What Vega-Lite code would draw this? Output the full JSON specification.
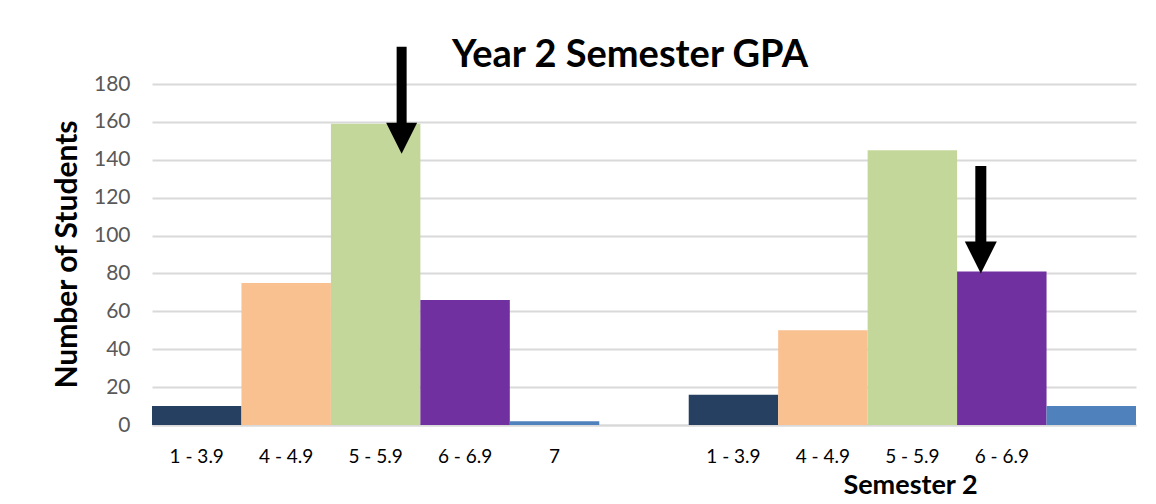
{
  "$schema": "https://vega.github.io/schema/vega-lite/v6.json",
  "width": 984,
  "height": 341,
  "autosize": "none",
  "padding": {"left": 152, "top": 84, "right": 20, "bottom": 79},
  "background": "white",
  "title": {
    "text": "Year 2 Semester GPA",
    "frame": "group",
    "anchor": "middle",
    "dx": -14,
    "dy": 76,
    "offset": 13,
    "baseline": "alphabetic",
    "font": "Lato",
    "fontSize": 38,
    "fontWeight": "bold",
    "color": "#000000"
  },
  "config": {
    "view": {"stroke": null},
    "axis": {"labelFont": "Lato", "titleFont": "Lato"}
  },
  "datasets": {
    "bars": [
      {"bar": "S1|1 - 3.9", "semester": "Semester 1", "gpa": "1 - 3.9", "students": 10},
      {"bar": "S1|4 - 4.9", "semester": "Semester 1", "gpa": "4 - 4.9", "students": 75},
      {"bar": "S1|5 - 5.9", "semester": "Semester 1", "gpa": "5 - 5.9", "students": 159},
      {"bar": "S1|6 - 6.9", "semester": "Semester 1", "gpa": "6 - 6.9", "students": 66},
      {"bar": "S1|7", "semester": "Semester 1", "gpa": "7", "students": 2},
      {"bar": "S2|1 - 3.9", "semester": "Semester 2", "gpa": "1 - 3.9", "students": 16},
      {"bar": "S2|4 - 4.9", "semester": "Semester 2", "gpa": "4 - 4.9", "students": 50},
      {"bar": "S2|5 - 5.9", "semester": "Semester 2", "gpa": "5 - 5.9", "students": 145},
      {"bar": "S2|6 - 6.9", "semester": "Semester 2", "gpa": "6 - 6.9", "students": 81},
      {"bar": "S2|7", "semester": "Semester 2", "gpa": "7", "students": 10}
    ],
    "arrows": [
      {"bar": "S1|5 - 5.9", "from": 199.6, "to": 151.3},
      {"bar": "S2|6 - 6.9", "from": 136.7, "to": 88.4}
    ]
  },
  "layer": [
    {
      "data": {"name": "bars"},
      "mark": {"type": "bar"},
      "encoding": {
        "x": {
          "field": "bar",
          "type": "ordinal",
          "sort": null,
          "scale": {
            "domain": ["S1|1 - 3.9", "S1|4 - 4.9", "S1|5 - 5.9", "S1|6 - 6.9", "S1|7", "gap", "S2|1 - 3.9", "S2|4 - 4.9", "S2|5 - 5.9", "S2|6 - 6.9", "S2|7"],
            "paddingInner": 0,
            "paddingOuter": 0
          },
          "axis": {
            "title": "Semester 2",
            "titleX": 758,
            "titleY": 68,
            "titleAnchor": null,
            "titleAlign": "center",
            "titleBaseline": "alphabetic",
            "titleFontSize": 27,
            "titleFontWeight": "bold",
            "titleColor": "#000000",
            "labelAngle": 0,
            "labelExpr": "datum.value == 'gap' || datum.value == 'S2|7' ? '' : split(datum.value, '|')[1]",
            "labelFontSize": 19,
            "labelColor": "#000000",
            "labelBaseline": "alphabetic",
            "labelPadding": 37,
            "labelOverlap": false,
            "ticks": false,
            "domainColor": "#d9d9d9",
            "domainWidth": 2,
            "encode": {
              "labels": {
                "update": {
                  "dx": {"signal": "datum.value == 'S2|1 - 3.9' ? 27 : datum.value == 'S2|4 - 4.9' ? 36 : datum.value == 'S2|5 - 5.9' ? 39 : datum.value == 'S2|6 - 6.9' ? 42 : 3"}
                }
              }
            }
          }
        },
        "y": {
          "field": "students",
          "type": "quantitative",
          "scale": {"domain": [0, 180], "nice": false},
          "axis": {
            "title": "Number of Students",
            "titleFontSize": 30,
            "titleFontWeight": "bold",
            "titleColor": "#000000",
            "titleX": -85,
            "titleY": 170,
            "titleAngle": -90,
            "titleAlign": "center",
            "titleBaseline": "middle",
            "values": [0, 20, 40, 60, 80, 100, 120, 140, 160, 180],
            "tickCount": 10,
            "labelOverlap": false,
            "labelFontSize": 21,
            "labelColor": "#595959",
            "labelPadding": 22,
            "ticks": false,
            "domain": false,
            "grid": true,
            "gridColor": "#d9d9d9",
            "gridWidth": 2
          }
        },
        "color": {
          "field": "gpa",
          "type": "nominal",
          "scale": {
            "domain": ["1 - 3.9", "4 - 4.9", "5 - 5.9", "6 - 6.9", "7"],
            "range": ["#264061", "#F9C090", "#C4D79B", "#7030A0", "#4F81BD"]
          },
          "legend": null
        }
      }
    },
    {
      "data": {"name": "arrows"},
      "transform": [{"filter": "datum.bar == 'S1|5 - 5.9'"}],
      "mark": {"type": "rule", "strokeWidth": 10, "color": "#000000", "xOffset": 26},
      "encoding": {
        "x": {"field": "bar", "type": "ordinal"},
        "y": {"field": "from", "type": "quantitative"},
        "y2": {"field": "to"}
      }
    },
    {
      "data": {"name": "arrows"},
      "transform": [{"filter": "datum.bar == 'S1|5 - 5.9'"}],
      "mark": {"type": "point", "shape": "M-1,-1L1,-1L0,1Z", "filled": true, "opacity": 1, "color": "#000000", "size": 961, "xOffset": 26},
      "encoding": {
        "x": {"field": "bar", "type": "ordinal"},
        "y": {"field": "to", "type": "quantitative"}
      }
    },
    {
      "data": {"name": "arrows"},
      "transform": [{"filter": "datum.bar == 'S2|6 - 6.9'"}],
      "mark": {"type": "rule", "strokeWidth": 11, "color": "#000000", "xOffset": -21},
      "encoding": {
        "x": {"field": "bar", "type": "ordinal"},
        "y": {"field": "from", "type": "quantitative"},
        "y2": {"field": "to"}
      }
    },
    {
      "data": {"name": "arrows"},
      "transform": [{"filter": "datum.bar == 'S2|6 - 6.9'"}],
      "mark": {"type": "point", "shape": "M-1,-1L1,-1L0,1Z", "filled": true, "opacity": 1, "color": "#000000", "size": 1024, "xOffset": -21},
      "encoding": {
        "x": {"field": "bar", "type": "ordinal"},
        "y": {"field": "to", "type": "quantitative"}
      }
    }
  ]
}
